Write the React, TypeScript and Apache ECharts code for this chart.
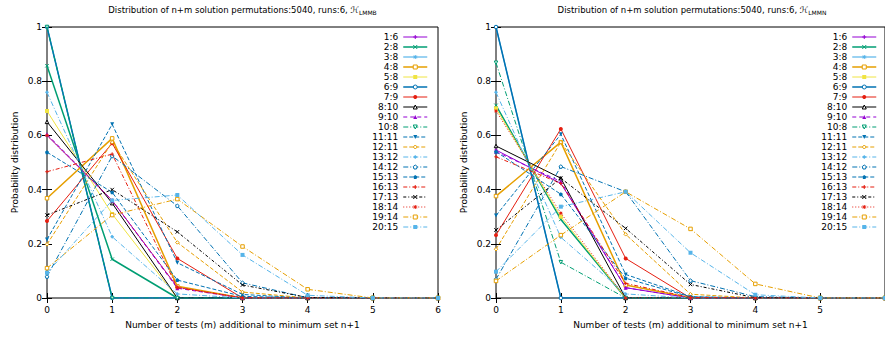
import React, { useEffect, useRef } from "react";
import * as echarts from "echarts";

const xValues = [0, 1, 2, 3, 4, 5, 6];
const seriesNames = [
  "1:6", "2:8", "3:8", "4:8", "5:8", "6:9", "7:9", "8:10", "9:10", "10:8",
  "11:11", "12:11", "13:12", "14:12", "15:13", "16:13", "17:13", "18:14", "19:14", "20:15",
];

const lmmbValues = [
  [0.6, 0.36, 0.04, 0, 0, 0, 0],
  [0.857, 0.143, 0, 0, 0, 0, 0],
  [1, 0, 0, 0, 0, 0, 0],
  [0.368, 0.589, 0.043, 0, 0, 0, 0],
  [0.69, 0.31, 0, 0, 0, 0, 0],
  [1, 0, 0, 0, 0, 0, 0],
  [0.284, 0.571, 0.146, 0, 0, 0, 0],
  [0.65, 0.35, 0, 0, 0, 0, 0],
  [0.604, 0.36, 0.036, 0, 0, 0, 0],
  [1, 0, 0, 0, 0, 0, 0],
  [0.216, 0.641, 0.13, 0.013, 0, 0, 0],
  [0.198, 0.575, 0.205, 0.022, 0, 0, 0],
  [0.759, 0.226, 0.015, 0, 0, 0, 0],
  [0.079, 0.524, 0.34, 0.056, 0.001, 0, 0],
  [0.538, 0.39, 0.066, 0.006, 0, 0, 0],
  [0.466, 0.531, 0.038, 0.001, 0, 0, 0],
  [0.306, 0.4, 0.244, 0.048, 0.002, 0, 0],
  [0.6, 0.36, 0.04, 0, 0, 0, 0],
  [0.11, 0.306, 0.365, 0.19, 0.032, 0, 0],
  [0.093, 0.36, 0.38, 0.159, 0.01, 0, 0],
];

const lmmnValues = [
  [0.546, 0.423, 0.038, 0, 0, 0, 0],
  [0.711, 0.29, 0, 0, 0, 0, 0],
  [1, 0, 0, 0, 0, 0, 0],
  [0.376, 0.575, 0.048, 0.001, 0, 0, 0],
  [0.7, 0.3, 0, 0, 0, 0, 0],
  [1, 0, 0, 0, 0, 0, 0],
  [0.232, 0.624, 0.146, 0, 0, 0, 0],
  [0.561, 0.442, 0, 0, 0, 0, 0],
  [0.54, 0.43, 0.038, 0, 0, 0, 0],
  [0.868, 0.132, 0, 0, 0, 0, 0],
  [0.304, 0.604, 0.087, 0.005, 0, 0, 0],
  [0.18, 0.575, 0.235, 0.014, 0, 0, 0],
  [0.759, 0.224, 0.015, 0, 0, 0, 0],
  [0.069, 0.485, 0.392, 0.064, 0.005, 0, 0],
  [0.54, 0.383, 0.073, 0.004, 0, 0, 0],
  [0.521, 0.423, 0.054, 0.002, 0, 0, 0],
  [0.251, 0.442, 0.257, 0.05, 0.001, 0, 0],
  [0.69, 0.313, 0, 0, 0, 0, 0],
  [0.063, 0.232, 0.392, 0.255, 0.052, 0, 0],
  [0.097, 0.337, 0.392, 0.167, 0.012, 0, 0],
];

const PURPLE = "#9400d3";
const GREEN = "#009e73";
const LBLUE = "#56b4e9";
const ORANGE = "#e69f00";
const YELLOW = "#f0e442";
const BLUE = "#0072b2";
const RED = "#e51e10";
const BLACK = "#000000";

const seriesColors = [
  PURPLE, GREEN, LBLUE, ORANGE, YELLOW, BLUE, RED, BLACK, PURPLE, GREEN,
  BLUE, ORANGE, LBLUE, BLUE, BLUE, RED, BLACK, RED, ORANGE, LBLUE,
];
const seriesWidths = [1, 1.5, 1.2, 1.5, 1, 1.5, 1, 1, 1, 1, 1, 1, 1, 1, 1, 1, 1, 1, 1, 1];
const seriesDash: any[] = [
  "solid", "solid", "solid", "solid", "solid", "solid", "solid", "solid",
  [4, 3], [5, 2, 1, 2], [4, 2], [4, 2], [5, 2, 1, 2], [5, 2, 1, 2], [4, 2],
  [4, 2, 1, 2], [3, 2, 1, 2], [1, 2], [5, 2, 1, 2], [5, 2, 1, 2],
];

const PLUS = "path://M0,5L10,5M5,0L5,10";
const CROSS = "path://M0,0L10,10M10,0L0,10";
const STAR = "path://M0,5L10,5M5,0L5,10M1.5,1.5L8.5,8.5M8.5,1.5L1.5,8.5";
const ORECT = "path://M0,0L10,0L10,10L0,10Z";
const OCIRC = "path://M0,5A5,5,0,1,1,10,5A5,5,0,1,1,0,5Z";
const OTRI = "path://M5,0L10,10L0,10Z";
const INVTRI = "path://M0,0L10,0L5,9Z";
const ODIAM = "path://M5,0L10,5L5,10L0,5Z";
const PENTA = "path://M5,0L10,3.8L8.1,10L1.9,10L0,3.8Z";
const pointShapes = [
  PLUS, CROSS, STAR, ORECT, "rect", OCIRC, "circle", OTRI,
  "triangle", INVTRI, INVTRI, ODIAM, "diamond", PENTA, PENTA,
];
const pointHollow = [
  true, true, true, true, false, true, false, true,
  false, true, false, true, false, true, false,
];

const FONT = "DejaVu Sans";

function buildOption() {
  const panels = [
    { values: lmmbValues, left: 47, right: 447, cx: 242.5, sub: "LMMB", legendRight: 457 },
    { values: lmmnValues, left: 496, right: -3, cx: 692, sub: "LMMN", legendRight: 8 },
  ];
  const grid: any[] = [];
  const xAxis: any[] = [];
  const yAxis: any[] = [];
  const series: any[] = [];
  const legend: any[] = [];
  const graphic: any[] = [];
  const tick = { show: true, inside: true, length: 5, lineStyle: { color: "#000", width: 1 } };

  panels.forEach((p, pi) => {
    grid.push({
      left: p.left, right: p.right, top: 27, bottom: 40,
      show: true, borderColor: "#000", borderWidth: 1, backgroundColor: "transparent",
    });
    xAxis.push({
      type: "value", gridIndex: pi, min: 0, max: 6, interval: 1, position: "bottom",
      axisLine: { show: false }, axisTick: tick, splitLine: { show: false },
      axisLabel: { color: "#000", fontSize: 9, fontFamily: FONT, margin: 7, showMaxLabel: pi === 0 },
      name: "Number of tests (m) additional to minimum set n+1",
      nameLocation: "middle", nameGap: 22,
      nameTextStyle: { color: "#000", fontSize: 9, fontFamily: FONT },
    });
    xAxis.push({
      type: "value", gridIndex: pi, min: 0, max: 6, interval: 1, position: "top",
      axisLine: { show: false }, axisTick: tick, splitLine: { show: false },
      axisLabel: { show: false },
    });
    yAxis.push({
      type: "value", gridIndex: pi, min: 0, max: 1, interval: 0.2, position: "left",
      axisLine: { show: false }, axisTick: tick, splitLine: { show: false },
      axisLabel: { color: "#000", fontSize: 9, fontFamily: FONT, margin: 5 },
      name: "Probability distribution", nameLocation: "middle", nameGap: 28,
      nameTextStyle: { color: "#000", fontSize: 9, fontFamily: FONT },
    });
    yAxis.push({
      type: "value", gridIndex: pi, min: 0, max: 1, interval: 0.2, position: "right",
      axisLine: { show: false }, axisTick: tick, splitLine: { show: false },
      axisLabel: { show: false },
    });
    p.values.forEach((vals, i) => {
      const k = i % pointShapes.length;
      const sym = pointShapes[k];
      const hollow = pointHollow[k];
      const col = seriesColors[i];
      series.push({
        name: seriesNames[i], type: "line", xAxisIndex: pi * 2, yAxisIndex: pi * 2,
        data: vals.map((v, j) => [xValues[j], v]),
        symbol: sym, symbolSize: hollow ? 3.5 : 4, showSymbol: true,
        lineStyle: { color: col, width: seriesWidths[i], type: seriesDash[i] },
        itemStyle: {
          color: hollow && sym !== PLUS && sym !== CROSS && sym !== STAR ? "#fff" : col,
          borderColor: col, borderWidth: hollow ? 1 : 0,
        },
        emphasis: { disabled: true }, z: 2 + i * 0.01,
      });
    });
    legend.push({
      data: seriesNames, orient: "vertical", right: p.legendRight, top: 32, align: "right",
      itemWidth: 24, itemHeight: 5, itemGap: 0, padding: 0, selectedMode: false,
      lineStyle: { width: "inherit", type: "inherit", color: "inherit" },
      itemStyle: { borderWidth: "inherit" },
      textStyle: { color: "#000", fontSize: 9, lineHeight: 10, fontFamily: FONT },
    });
    graphic.push({
      type: "text", x: p.cx, y: 4,
      style: {
        text: `{a|Distribution of n+m solution permutations:5040, runs:6, ℋ}{b|${p.sub}}`,
        align: "center", verticalAlign: "top",
        rich: {
          a: { fontSize: 8.5, fontFamily: FONT, fill: "#000", lineHeight: 11 },
          b: { fontSize: 6, fontFamily: FONT, fill: "#000", lineHeight: 11, verticalAlign: "bottom" },
        },
      },
    });
  });

  return {
    animation: false,
    backgroundColor: "#fff",
    grid, xAxis, yAxis, series, legend, graphic,
  };
}

export default function App() {
  const ref = useRef<HTMLDivElement>(null);
  useEffect(() => {
    if (!ref.current) return;
    const chart = echarts.init(ref.current, undefined, { renderer: "svg" });
    chart.setOption(buildOption() as any);
    return () => chart.dispose();
  }, []);
  return (
    <div
      ref={ref}
      style={{ position: "fixed", left: 0, top: 0, width: 885, height: 338, background: "#fff" }}
    />
  );
}
